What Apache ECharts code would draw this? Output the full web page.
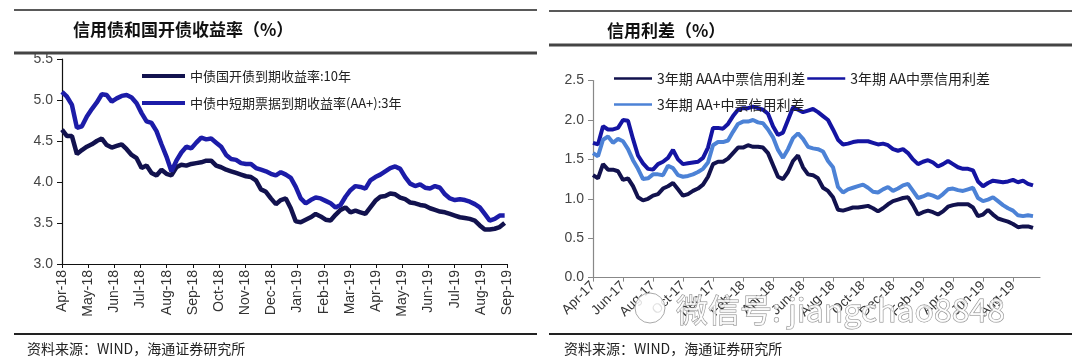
<!DOCTYPE html>
<html><head><meta charset="utf-8">
<script src="https://cdn.jsdelivr.net/npm/echarts@6/dist/echarts.min.js"></script>
<style>html,body{margin:0;padding:0;background:#fff}#c{width:1080px;height:364px}</style>
</head><body><div id="c"></div>
<script>
// ---- text ----
const leftTitle = '信用债和国开债收益率（%）';
const rightTitle = '信用利差（%）';
const sourceText = '资料来源：WIND，海通证券研究所';
const watermarkText = '微信号: jiangchao8848';
const leftSeriesNames = ['中债国开债到期收益率:10年', '中债中短期票据到期收益率(AA+):3年'];
const rightSeriesNames = ['3年期 AAA中票信用利差', '3年期 AA中票信用利差', '3年期 AA+中票信用利差'];

// ---- tick labels ----
const leftMonthLabels = ['Apr-18','May-18','Jun-18','Jul-18','Aug-18','Sep-18','Oct-18','Nov-18','Dec-18',
  'Jan-19','Feb-19','Mar-19','Apr-19','May-19','Jun-19','Jul-19','Aug-19','Sep-19'];
const rightMonthLabels = ['Apr-17','Jun-17','Aug-17','Oct-17','Dec-17','Feb-18','Apr-18','Jun-18',
  'Aug-18','Oct-18','Dec-18','Feb-19','Apr-19','Jun-19','Aug-19'];

// ---- sampling (months between observations, counted from first tick) ----
const leftStepMonths = 0.19;
const rightStepMonths = 1 / 3;

// ---- left chart: yields (%) ----
const cdbYield10y = [4.64,4.56,4.56,4.34,4.39,4.43,4.46,4.50,4.53,4.45,
 4.42,4.44,4.46,4.40,4.33,4.29,4.17,4.20,4.11,4.08,
 4.15,4.10,4.08,4.18,4.21,4.20,4.22,4.23,4.24,4.26,
 4.26,4.20,4.18,4.15,4.13,4.11,4.09,4.07,4.06,4.02,
 3.91,3.88,3.80,3.73,3.78,3.80,3.68,3.52,3.51,3.54,
 3.57,3.61,3.58,3.54,3.53,3.60,3.66,3.69,3.63,3.65,
 3.63,3.61,3.69,3.77,3.82,3.83,3.86,3.85,3.81,3.79,
 3.75,3.74,3.72,3.71,3.68,3.66,3.64,3.63,3.61,3.59,
 3.57,3.56,3.55,3.53,3.47,3.42,3.42,3.43,3.45,3.50];
const mtnYieldAAplus3y = [5.10,5.04,4.94,4.66,4.68,4.80,4.89,4.97,5.07,5.06,
 4.98,5.02,5.05,5.06,5.03,4.96,4.84,4.74,4.72,4.62,
 4.46,4.31,4.13,4.26,4.36,4.43,4.41,4.48,4.54,4.52,
 4.53,4.48,4.43,4.33,4.28,4.27,4.23,4.22,4.22,4.17,
 4.15,4.13,4.10,4.08,4.12,4.09,4.05,3.94,3.80,3.74,
 3.78,3.81,3.80,3.77,3.74,3.69,3.72,3.82,3.90,3.95,
 3.94,3.92,4.02,4.06,4.09,4.13,4.17,4.19,4.16,4.06,
 3.98,3.95,3.97,3.93,3.92,3.95,3.93,3.85,3.80,3.78,
 3.79,3.78,3.76,3.73,3.69,3.61,3.53,3.55,3.59,3.59];

// ---- right chart: credit spreads (%) ----
const spreadAAA = [1.30,1.26,1.44,1.37,1.37,1.35,1.24,1.26,1.16,1.02,
 0.98,1.00,1.04,1.06,1.13,1.16,1.20,1.12,1.04,1.06,
 1.10,1.13,1.18,1.28,1.44,1.47,1.47,1.51,1.58,1.65,
 1.65,1.68,1.66,1.66,1.65,1.58,1.43,1.28,1.25,1.34,
 1.48,1.55,1.40,1.31,1.30,1.26,1.14,1.10,1.02,0.86,
 0.85,0.87,0.89,0.89,0.90,0.91,0.88,0.84,0.88,0.93,
 0.97,0.99,1.01,1.02,0.92,0.80,0.83,0.85,0.83,0.80,
 0.84,0.90,0.92,0.93,0.93,0.93,0.89,0.78,0.80,0.86,
 0.80,0.75,0.73,0.71,0.68,0.64,0.65,0.65,0.63];
const spreadAA = [1.71,1.69,1.92,1.88,1.88,1.90,2.00,1.99,1.76,1.55,
 1.45,1.38,1.37,1.44,1.47,1.52,1.62,1.50,1.44,1.45,
 1.46,1.47,1.52,1.65,1.90,1.90,1.89,1.95,2.05,2.13,
 2.15,2.15,2.17,2.15,2.13,2.08,1.92,1.81,1.84,2.00,
 2.16,2.13,2.10,2.12,2.14,2.10,2.05,2.00,1.88,1.75,
 1.69,1.70,1.72,1.73,1.73,1.73,1.71,1.69,1.70,1.68,
 1.63,1.61,1.63,1.58,1.50,1.44,1.47,1.49,1.46,1.41,
 1.44,1.48,1.44,1.40,1.38,1.38,1.36,1.22,1.16,1.20,
 1.23,1.22,1.21,1.22,1.24,1.21,1.23,1.19,1.17];
const spreadAAplus = [1.58,1.54,1.75,1.79,1.71,1.76,1.73,1.63,1.49,1.38,
 1.25,1.26,1.31,1.31,1.30,1.42,1.39,1.30,1.28,1.29,
 1.31,1.34,1.38,1.46,1.68,1.72,1.72,1.74,1.85,1.95,
 1.98,1.98,2.00,1.97,1.96,1.88,1.78,1.62,1.52,1.63,
 1.77,1.83,1.76,1.66,1.64,1.63,1.60,1.48,1.40,1.15,
 1.08,1.12,1.14,1.16,1.18,1.14,1.09,1.08,1.12,1.15,
 1.10,1.13,1.17,1.19,1.10,1.01,1.03,1.06,1.04,1.01,
 1.06,1.12,1.13,1.11,1.10,1.12,1.14,1.01,0.97,0.99,
 1.02,0.97,0.92,0.88,0.85,0.79,0.78,0.79,0.78];

// ---- build ----
const pair = (arr, step) => arr.map((v, i) => [i * step, v]);
const NAVY = '#12124e', BLUE = '#1c1ca8', RBLUE = '#1414a2', LBLUE = '#4c82d6';
const CJK = '"Noto Sans CJK SC", sans-serif';
const LAT = '"Liberation Sans", Arial, sans-serif';
const rightTicks = rightMonthLabels.map((_, i) => i * 2);

const chart = echarts.init(document.getElementById('c'), null, {renderer: 'canvas'});
chart.setOption({
  animation: false,
  backgroundColor: '#fff',
  title: [
    {text: leftTitle, left: 68, top: 16, textStyle: {fontFamily: CJK, fontSize: 17, fontWeight: 'bold', color: '#111'}},
    {text: rightTitle, left: 602, top: 17, textStyle: {fontFamily: CJK, fontSize: 17, fontWeight: 'bold', color: '#111'}}
  ],
  legend: [
    {data: leftSeriesNames, orient: 'vertical', left: 137, top: 64, itemWidth: 43, itemHeight: 4, itemGap: 13,
     icon: 'rect', textStyle: {fontFamily: CJK, fontSize: 13, color: '#222', lineHeight: 14}},
    {data: [rightSeriesNames[0], rightSeriesNames[1]], orient: 'horizontal', left: 609, top: 66, itemWidth: 38, itemHeight: 2.5,
     itemGap: 2, icon: 'rect', textStyle: {fontFamily: CJK, fontSize: 14, color: '#222', lineHeight: 15}},
    {data: [rightSeriesNames[2]], orient: 'horizontal', left: 609, top: 92, itemWidth: 38, itemHeight: 2.5,
     icon: 'rect', textStyle: {fontFamily: CJK, fontSize: 14, color: '#222', lineHeight: 15}}
  ],
  grid: [
    {left: 62, top: 59, width: 445, height: 205},
    {left: 593, top: 80.6, width: 447, height: 197}
  ],
  xAxis: [
    {gridIndex: 0, type: 'value', min: 0, max: 17, interval: 1,
     axisLine: {lineStyle: {color: '#111', width: 1.2}},
     axisTick: {length: 4, lineStyle: {color: '#111'}},
     splitLine: {show: false},
     axisLabel: {rotate: 90, margin: 6, fontFamily: LAT, fontSize: 14, color: '#333',
       formatter: v => leftMonthLabels[Math.round(v)] || ''}},
    {gridIndex: 1, type: 'value', min: 0, max: 29.8, interval: 2,
     axisLine: {lineStyle: {color: '#888', width: 1.2}},
     axisTick: {length: 4, lineStyle: {color: '#888'}, customValues: rightTicks},
     splitLine: {show: false},
     axisLabel: {rotate: 45, margin: 6, fontFamily: LAT, fontSize: 13.5, color: '#333', customValues: rightTicks,
       formatter: v => rightMonthLabels[Math.round(v / 2)] || ''}}
  ],
  yAxis: [
    {gridIndex: 0, type: 'value', min: 3, max: 5.5, interval: 0.5,
     axisLine: {show: true, lineStyle: {color: '#111', width: 1.2}},
     axisTick: {show: true, length: 5, lineStyle: {color: '#111'}},
     splitLine: {show: false},
     axisLabel: {margin: 9, fontFamily: LAT, fontSize: 14, color: '#444', formatter: v => v.toFixed(1)}},
    {gridIndex: 1, type: 'value', min: 0, max: 2.5, interval: 0.5,
     axisLine: {show: true, lineStyle: {color: '#888', width: 1.2}},
     axisTick: {show: true, length: 5, lineStyle: {color: '#888'}},
     splitLine: {show: false},
     axisLabel: {margin: 9, fontFamily: LAT, fontSize: 14, color: '#444', formatter: v => v.toFixed(1)}}
  ],
  series: [
    {name: leftSeriesNames[0], type: 'line', xAxisIndex: 0, yAxisIndex: 0, showSymbol: false,
     color: NAVY, lineStyle: {width: 4.5, color: NAVY}, data: pair(cdbYield10y, leftStepMonths)},
    {name: leftSeriesNames[1], type: 'line', xAxisIndex: 0, yAxisIndex: 0, showSymbol: false,
     color: BLUE, lineStyle: {width: 4.5, color: BLUE}, data: pair(mtnYieldAAplus3y, leftStepMonths)},
    {name: rightSeriesNames[0], type: 'line', xAxisIndex: 1, yAxisIndex: 1, showSymbol: false,
     color: NAVY, lineStyle: {width: 4, color: NAVY}, data: pair(spreadAAA, rightStepMonths)},
    {name: rightSeriesNames[1], type: 'line', xAxisIndex: 1, yAxisIndex: 1, showSymbol: false,
     color: RBLUE, lineStyle: {width: 4, color: RBLUE}, data: pair(spreadAA, rightStepMonths)},
    {name: rightSeriesNames[2], type: 'line', xAxisIndex: 1, yAxisIndex: 1, showSymbol: false,
     color: LBLUE, lineStyle: {width: 4, color: LBLUE}, data: pair(spreadAAplus, rightStepMonths)}
  ],
  graphic: [
    {type: 'line', shape: {x1: 14, y1: 10, x2: 537, y2: 10}, style: {stroke: '#222', lineWidth: 1.5}},
    {type: 'line', shape: {x1: 14, y1: 53, x2: 537, y2: 53}, style: {stroke: '#444', lineWidth: 3}},
    {type: 'line', shape: {x1: 14, y1: 334, x2: 537, y2: 334}, style: {stroke: '#222', lineWidth: 2}},
    {type: 'line', shape: {x1: 549, y1: 11, x2: 1072, y2: 11}, style: {stroke: '#222', lineWidth: 1.5}},
    {type: 'line', shape: {x1: 549, y1: 45, x2: 1072, y2: 45}, style: {stroke: '#444', lineWidth: 3}},
    {type: 'line', shape: {x1: 549, y1: 334, x2: 1072, y2: 334}, style: {stroke: '#222', lineWidth: 2}},
    {type: 'text', x: 27, y: 349, style: {text: sourceText, fontFamily: CJK, fontSize: 14, fill: '#222', verticalAlign: 'middle'}},
    {type: 'text', x: 564, y: 349, style: {text: sourceText, fontFamily: CJK, fontSize: 14, fill: '#222', verticalAlign: 'middle'}},
    {type: 'circle', z: 100, shape: {cx: 650, cy: 308, r: 15}, style: {fill: 'rgba(255,255,255,0.85)', stroke: '#aaa', lineWidth: 1}},
    {type: 'text', z: 100, x: 676, y: 310, style: {text: watermarkText, fontFamily: CJK, fontSize: 32,
      fill: 'rgba(255,255,255,0.8)', stroke: '#888', lineWidth: 1, verticalAlign: 'middle'}}
  ]
});
</script>
</body></html>
